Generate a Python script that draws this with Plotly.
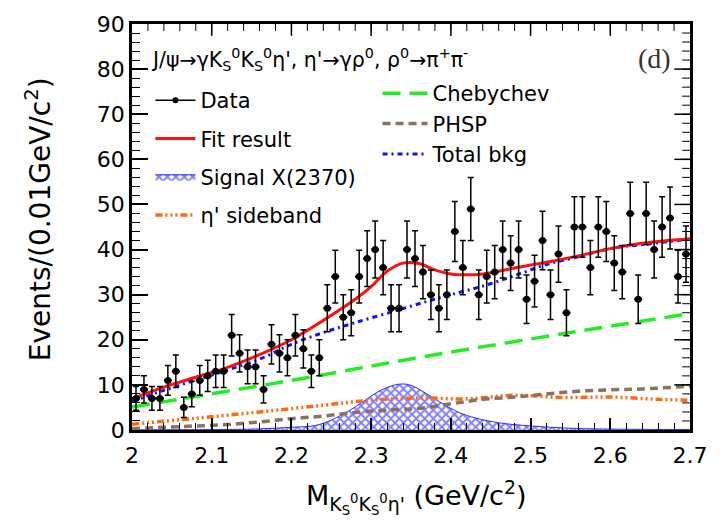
import plotly.graph_objects as go
import numpy as np

# ---------------- data ----------------
BIN_LO = 2.0
BIN_W = 0.01
DATA_Y = [7, 9, 7, 7, 11, 13, 5, 8, 11, 12,
          13, 13, 21, 17, 14, 14, 9, 19, 17, 16,
          21, 18, 13, 16, 27, 34, 25, 26, 34, 38,
          40, 36, 27, 27, 40, 38, 35, 30, 27, 30,
          44, 36, 49, 30, 34, 35, 40, 37, 40, 29,
          33, 42, 30, 39, 26, 45, 45, 36, 45, 44,
          37, 35, 48, 29, 48, 40, 45, 47, 34, 39]

FIT_X = [2.00, 2.04, 2.08, 2.12, 2.16, 2.20, 2.24, 2.28, 2.30, 2.32, 2.34, 2.36,
         2.38, 2.40, 2.42, 2.44, 2.48, 2.52, 2.56, 2.60, 2.64, 2.70]
FIT_Y = [6.9, 9.5, 11.7, 13.9, 16.7, 20.0, 24.3, 29.0, 31.8, 35.2, 37.0, 36.9,
         35.5, 34.6, 34.4, 34.6, 35.9, 37.2, 38.6, 40.2, 41.4, 42.4]

BKG_X = [2.00, 2.04, 2.12, 2.16, 2.20, 2.24, 2.28, 2.33, 2.37, 2.40, 2.44, 2.48,
         2.52, 2.56, 2.60, 2.64, 2.70]
BKG_Y = [6.3, 8.8, 13.3, 15.7, 19.0, 21.6, 23.8, 26.4, 28.5, 30.0, 31.9, 34.2,
         36.7, 38.4, 40.2, 41.1, 42.3]

CHEB_X = [2.00, 2.20, 2.364, 2.55, 2.70]
CHEB_Y = [5.1, 11.0, 16.2, 21.6, 25.8]

PHSP_X = [2.00, 2.04, 2.08, 2.12, 2.16, 2.20, 2.24, 2.28, 2.32, 2.36, 2.40, 2.44,
          2.48, 2.52, 2.56, 2.60, 2.64, 2.70]
PHSP_Y = [0.3, 0.6, 0.9, 1.2, 1.8, 2.5, 3.1, 3.9, 4.4, 4.8, 5.8, 6.8,
          7.3, 8.0, 8.6, 8.9, 9.1, 9.7]

SB_X = [2.00, 2.08, 2.16, 2.24, 2.30, 2.36, 2.42, 2.48, 2.54, 2.60, 2.66, 2.70]
SB_Y = [1.3, 2.6, 4.0, 5.5, 6.6, 7.1, 6.9, 7.7, 7.2, 7.3, 6.8, 6.6]

SIG_X = [2.00, 2.10, 2.15, 2.20, 2.23, 2.25, 2.27, 2.29, 2.31, 2.33, 2.34, 2.35,
         2.37, 2.39, 2.41, 2.43, 2.46, 2.50, 2.55, 2.60, 2.70]
SIG_Y = [0.05, 0.1, 0.2, 0.6, 1.0, 2.2, 4.0, 6.3, 8.6, 10.0, 10.2, 9.9,
         8.0, 5.8, 3.9, 2.7, 1.6, 0.9, 0.4, 0.2, 0.1]

X_RANGE = [2.0, 2.7]
Y_RANGE = [0, 90]
X_TICKS = [2.0, 2.1, 2.2, 2.3, 2.4, 2.5, 2.6, 2.7]
X_TICK_LABELS = ["2", "2.1", "2.2", "2.3", "2.4", "2.5", "2.6", "2.7"]
Y_TICKS = [0, 10, 20, 30, 40, 50, 60, 70, 80, 90]
Y_TICK_LABELS = [str(v) for v in Y_TICKS]
X_MINOR_STEP = 0.02
Y_MINOR_STEP = 2

# ---------------- figure ----------------
FONT = "DejaVu Sans"
W, H = 720, 529
M_L, M_R, M_T, M_B = 132, 19, 20, 99
PLOT_W = W - M_L - M_R
PLOT_H = H - M_T - M_B

data_x = [BIN_LO + BIN_W * (i + 0.5) for i in range(len(DATA_Y))]
data_err = [float(np.sqrt(v)) for v in DATA_Y]

fig = go.Figure()

fig.add_trace(go.Scatter(
    x=SIG_X, y=SIG_Y, mode="lines", fill="tozeroy",
    line=dict(color="#2a2aff", width=1, shape="spline"),
    fillcolor="rgba(255,255,255,0)",
    fillpattern=dict(shape="x", fgcolor="#0000ff", bgcolor="rgba(255,255,255,0)",
                     size=6, solidity=0.55),
    name="Signal X(2370)", legend="legend", legendgroup="sig", legendrank=3))

fig.add_trace(go.Scatter(
    x=SB_X, y=SB_Y, mode="lines",
    line=dict(color="#ff6a10", width=3.5, dash="7px,3px,2px,3px,2px,3px,2px,3px", shape="spline"),
    name="η' sideband", legend="legend", legendgroup="sb", legendrank=4))

fig.add_trace(go.Scatter(
    x=PHSP_X, y=PHSP_Y, mode="lines",
    line=dict(color="#8c7060", width=3.5, dash="8px,5px", shape="spline"),
    name="PHSP", legend="legend2", legendgroup="phsp", legendrank=2))

fig.add_trace(go.Scatter(
    x=CHEB_X, y=CHEB_Y, mode="lines",
    line=dict(color="#22ee22", width=3.5, dash="18px,9px", shape="spline"),
    name="Chebychev", legend="legend2", legendgroup="cheb", legendrank=1))

fig.add_trace(go.Scatter(
    x=BKG_X, y=BKG_Y, mode="lines",
    line=dict(color="#1010ff", width=3, dash="5px,4px,2px,4px", shape="spline"),
    name="Total bkg", legend="legend2", legendgroup="bkg", legendrank=3))

fig.add_trace(go.Scatter(
    x=FIT_X, y=FIT_Y, mode="lines",
    line=dict(color="#ff1010", width=3, shape="spline"),
    name="Fit result", legend="legend", legendgroup="fit", legendrank=2))

fig.add_trace(go.Scatter(
    x=data_x, y=DATA_Y, mode="markers",
    marker=dict(color="black", size=7, symbol="circle"),
    error_y=dict(type="data", array=data_err, color="black", thickness=1.5, width=3),
    error_x=dict(type="constant", value=BIN_W / 2, color="black", thickness=2.5, width=0),
    showlegend=False))
fig.add_trace(go.Scatter(
    x=[None], y=[None], mode="lines+markers",
    line=dict(color="black", width=1.5), marker=dict(color="black", size=6),
    name="Data", legend="legend", legendgroup="data", legendrank=1))

# ---- mirrored (top / right) tick marks, derived from the tick arrays ----
x_per_px = (X_RANGE[1] - X_RANGE[0]) / PLOT_W
y_per_px = (Y_RANGE[1] - Y_RANGE[0]) / PLOT_H
n_xminor = int(round((X_RANGE[1] - X_RANGE[0]) / X_MINOR_STEP))
x_minor = [X_RANGE[0] + X_MINOR_STEP * i for i in range(1, n_xminor)]
y_minor = list(range(Y_RANGE[0] + Y_MINOR_STEP, Y_RANGE[1], Y_MINOR_STEP))
invisible = dict(size=1, color="rgba(0,0,0,0)")


def top_ticks(xs, length_px, thick):
    return go.Scatter(
        x=xs, y=[Y_RANGE[1]] * len(xs), mode="markers", marker=invisible,
        error_y=dict(type="data", symmetric=False, array=[0] * len(xs),
                     arrayminus=[length_px * y_per_px] * len(xs),
                     width=0, thickness=thick, color="black"),
        showlegend=False, hoverinfo="skip", cliponaxis=False)


def right_ticks(ys, length_px, thick):
    return go.Scatter(
        x=[X_RANGE[1]] * len(ys), y=ys, mode="markers", marker=invisible,
        error_x=dict(type="data", symmetric=False, array=[0] * len(ys),
                     arrayminus=[length_px * x_per_px] * len(ys),
                     width=0, thickness=thick, color="black"),
        showlegend=False, hoverinfo="skip", cliponaxis=False)


fig.add_trace(top_ticks(x_minor, 7, 1))
fig.add_trace(top_ticks(X_TICKS[1:-1], 12, 1.5))
fig.add_trace(right_ticks(y_minor, 8, 1))
fig.add_trace(right_ticks(Y_TICKS[1:-1], 16, 1.5))

fig.update_layout(
    width=W, height=H,
    margin=dict(l=M_L, r=M_R, t=M_T, b=M_B),
    paper_bgcolor="white", plot_bgcolor="white",
    font=dict(family=FONT, color="black"),
    legend=dict(x=0.033, y=0.862, xanchor="left", yanchor="top",
                font=dict(family=FONT, size=21, color="black"),
                bgcolor="rgba(0,0,0,0)", itemwidth=40,
                tracegroupgap=8, traceorder="grouped"),
    legend2=dict(x=0.44, y=0.879, xanchor="left", yanchor="top",
                 font=dict(family=FONT, size=21, color="black"),
                 bgcolor="rgba(0,0,0,0)", itemwidth=45,
                 tracegroupgap=0, traceorder="grouped"),
)

fig.update_xaxes(
    range=X_RANGE, tickvals=X_TICKS, ticktext=X_TICK_LABELS,
    ticks="inside", ticklen=12, tickwidth=1.5, tickcolor="black",
    minor=dict(dtick=X_MINOR_STEP, tick0=X_RANGE[0], ticks="inside", ticklen=7,
               tickwidth=1, tickcolor="black"),
    showline=True, linewidth=2.5, linecolor="black", mirror=True,
    showgrid=False, zeroline=False, ticklabelstandoff=4,
    tickfont=dict(family=FONT, size=22, color="black"),
)
fig.update_yaxes(
    range=Y_RANGE, tickvals=Y_TICKS, ticktext=Y_TICK_LABELS,
    ticks="inside", ticklen=16, tickwidth=1.5, tickcolor="black",
    minor=dict(dtick=Y_MINOR_STEP, tick0=Y_RANGE[0], ticks="inside", ticklen=8,
               tickwidth=1, tickcolor="black"),
    showline=True, linewidth=2.5, linecolor="black", mirror=True,
    showgrid=False, zeroline=False,
    tickfont=dict(family=FONT, size=22, color="black"),
)

fig.add_annotation(
    xref="paper", yref="paper", x=-0.166, y=0.52, xanchor="center", yanchor="middle",
    textangle=-90, text="Events/(0.01GeV/c<sup>2</sup>)", showarrow=False,
    font=dict(family=FONT, size=28, color="black"))
fig.add_annotation(
    xref="paper", yref="paper", x=0.51, y=-0.165, xanchor="center", yanchor="middle",
    text="M<sub>K<sub>S</sub><sup>0</sup>K<sub>S</sub><sup>0</sup>η'</sub> (GeV/c<sup>2</sup>)",
    showarrow=False, font=dict(family=FONT, size=27, color="black"))

fig.add_annotation(
    xref="paper", yref="paper", x=0.03, y=0.912, xanchor="left", yanchor="middle",
    text="J/ψ→γK<sub>S</sub><sup>0</sup>K<sub>S</sub><sup>0</sup>η', η'→γρ<sup>0</sup>, ρ<sup>0</sup>→π<sup>+</sup>π<sup>-</sup>",
    showarrow=False, font=dict(family=FONT, size=20.5, color="black"))
fig.add_annotation(
    xref="paper", yref="paper", x=0.937, y=0.915, xanchor="center", yanchor="middle",
    text="(d)", showarrow=False, font=dict(family="Liberation Serif", size=28, color="#333333"))

fig.write_html("out.html")
